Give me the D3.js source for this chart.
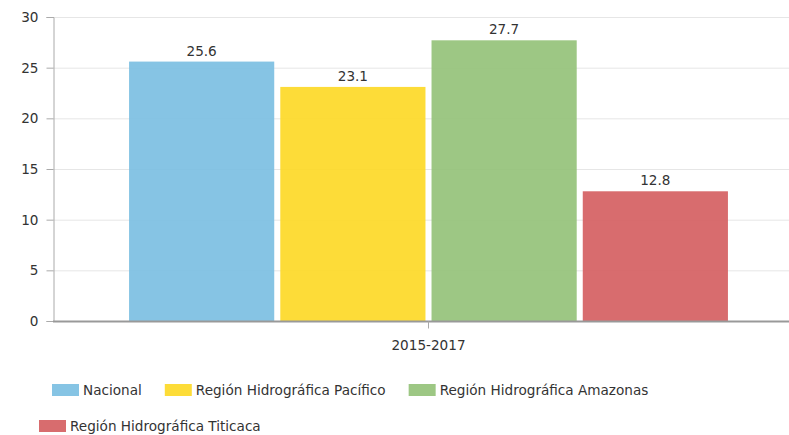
<!DOCTYPE html>
<html>
<head>
<meta charset="utf-8">
<script src="https://cdn.jsdelivr.net/npm/d3@7"></script>
<style>
  body { margin: 0; background: #fff; }
  svg { font-family: "DejaVu Sans", Verdana, sans-serif; }
</style>
</head>
<body>
<div id="chart"></div>
<script>
// data
const periods = ["2015-2017"];
const seriesNames = ["Nacional", "Región Hidrográfica Pacífico", "Región Hidrográfica Amazonas", "Región Hidrográfica Titicaca"];
const seriesValues = [25.6, 23.1, 27.7, 12.8];
const seriesColors = ["#7cbfe2", "#fdd927", "#95c27a", "#d55f62"];
const yTicks = [0, 5, 10, 15, 20, 25, 30];

const W = 789, H = 435;
const plot = {left: 53, right: 804, top: 17, bottom: 321};
const fontSize = 13.6;

const svg = d3.select("#chart").append("svg")
  .attr("width", W).attr("height", H);

const y = d3.scaleLinear().domain([0, 30]).range([plot.bottom, plot.top]);
const x0 = d3.scaleBand().domain(periods).range([plot.left, plot.right])
  .paddingInner(0).paddingOuter(0.127);
const x1 = d3.scaleBand().domain(seriesNames).range([0, x0.bandwidth()])
  .paddingInner(0.04).paddingOuter(0);

// gridlines
svg.append("g")
  .selectAll("line")
  .data(yTicks.filter(d => d > 0))
  .enter().append("line")
  .attr("x1", plot.left).attr("x2", W)
  .attr("y1", d => y(d) + 0.5).attr("y2", d => y(d) + 0.5)
  .attr("stroke", "#e6e6e6");

// y axis
const yAxis = svg.append("g")
  .attr("transform", "translate(" + (plot.left + 0.5) + ",0)")
  .call(d3.axisLeft(y).tickValues(yTicks).tickSize(7).tickPadding(8));
yAxis.select(".domain").attr("stroke", "#aaa");
yAxis.selectAll(".tick line").attr("stroke", "#aaa");
yAxis.selectAll(".tick text")
  .attr("font-family", "DejaVu Sans, Verdana, sans-serif")
  .attr("font-size", fontSize).attr("fill", "#333");

// bars
const group = svg.append("g");
group.selectAll("rect")
  .data(seriesNames.map((n, i) => ({name: n, value: seriesValues[i], color: seriesColors[i], period: periods[0]})))
  .enter().append("rect")
  .attr("x", d => x0(d.period) + x1(d.name))
  .attr("y", d => y(d.value))
  .attr("width", x1.bandwidth())
  .attr("height", d => plot.bottom - y(d.value))
  .attr("fill", d => d.color)
  .attr("fill-opacity", 0.92);

// value labels
group.selectAll("text")
  .data(seriesNames.map((n, i) => ({name: n, value: seriesValues[i], period: periods[0]})))
  .enter().append("text")
  .attr("x", d => x0(d.period) + x1(d.name) + x1.bandwidth() / 2)
  .attr("y", d => y(d.value) - 6)
  .attr("text-anchor", "middle")
  .attr("fill", "#333")
  .attr("font-size", fontSize)
  .text(d => d.value.toFixed(1));

// x axis
const xAxis = svg.append("g")
  .attr("transform", "translate(0," + (plot.bottom + 0.5) + ")")
  .call(d3.axisBottom(x0).tickSize(7).tickPadding(12));
xAxis.select(".domain").attr("stroke", "#999").attr("stroke-width", 2)
  .attr("d", "M" + plot.left + ",0H" + W);
xAxis.selectAll(".tick line").attr("stroke", "#aaa");
xAxis.selectAll(".tick text")
  .attr("font-family", "DejaVu Sans, Verdana, sans-serif")
  .attr("font-size", fontSize).attr("fill", "#333");

// legend, two rows as in the reference
const legendRows = [[0, 1, 2], [3]];
const rowStart = [52, 39];
const rowY = [390, 426];
legendRows.forEach((row, r) => {
  let cx = rowStart[r];
  row.forEach(i => {
    const item = svg.append("g").attr("transform", "translate(" + cx + "," + rowY[r] + ")");
    item.append("rect")
      .attr("x", 0).attr("y", -6).attr("width", 27).attr("height", 12)
      .attr("fill", seriesColors[i]).attr("fill-opacity", 0.92);
    const t = item.append("text")
      .attr("x", 31).attr("y", 5)
      .attr("fill", "#333").attr("font-size", fontSize)
      .text(seriesNames[i]);
    cx += 31 + t.node().getComputedTextLength() + 23;
  });
});
</script>
</body>
</html>
